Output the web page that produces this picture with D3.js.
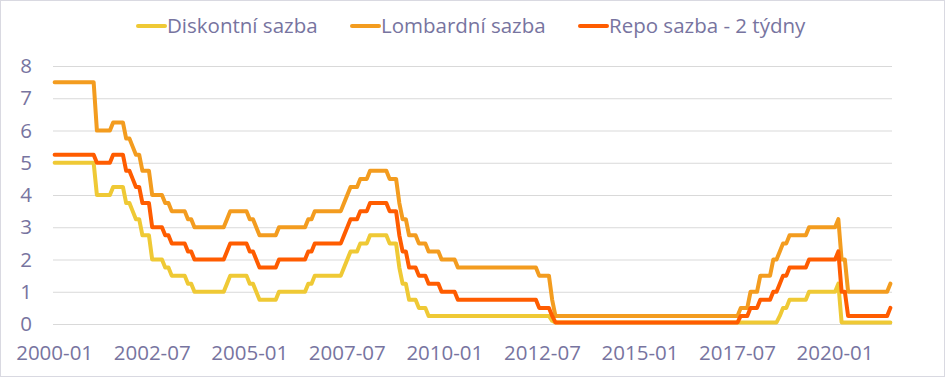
<!DOCTYPE html>
<html>
<head>
<meta charset="utf-8">
<script src="https://cdn.jsdelivr.net/npm/d3@7"></script>
<style>
  body { margin: 0; background: #fff; }
  text { font-family: "Segoe UI", "Open Sans", sans-serif; }
</style>
</head>
<body>
<div id="chart"></div>
<script>
// monthly values, 2000-01 .. 2021-06 (one row per year)
const seriesNames = ['Diskontní sazba', 'Lombardní sazba', 'Repo sazba - 2 týdny'];
const seriesColors = ['#efc935', '#f39c1f', '#ff5c00'];
const tickLabels = ['2000-01','2002-07','2005-01','2007-07','2010-01','2012-07','2015-01','2017-07','2020-01'];
const yTicks = [0,1,2,3,4,5,6,7,8];

const diskontni = [
  5,5,5,5,5,5,5,5,5,5,5,5,
  5,4,4,4,4,4,4.25,4.25,4.25,4.25,3.75,3.75,
  3.5,3.25,3.25,2.75,2.75,2.75,2,2,2,2,1.75,1.75,
  1.5,1.5,1.5,1.5,1.5,1.25,1.25,1,1,1,1,1,
  1,1,1,1,1,1.25,1.5,1.5,1.5,1.5,1.5,1.5,
  1.25,1.25,1,0.75,0.75,0.75,0.75,0.75,0.75,1,1,1,
  1,1,1,1,1,1,1.25,1.25,1.5,1.5,1.5,1.5,
  1.5,1.5,1.5,1.5,1.5,1.75,2,2.25,2.25,2.25,2.5,2.5,
  2.5,2.75,2.75,2.75,2.75,2.75,2.75,2.5,2.5,2.5,1.75,1.25,
  1.25,0.75,0.75,0.75,0.5,0.5,0.5,0.25,0.25,0.25,0.25,0.25,
  0.25,0.25,0.25,0.25,0.25,0.25,0.25,0.25,0.25,0.25,0.25,0.25,
  0.25,0.25,0.25,0.25,0.25,0.25,0.25,0.25,0.25,0.25,0.25,0.25,
  0.25,0.25,0.25,0.25,0.25,0.25,0.25,0.25,0.25,0.1,0.05,0.05,
  0.05,0.05,0.05,0.05,0.05,0.05,0.05,0.05,0.05,0.05,0.05,0.05,
  0.05,0.05,0.05,0.05,0.05,0.05,0.05,0.05,0.05,0.05,0.05,0.05,
  0.05,0.05,0.05,0.05,0.05,0.05,0.05,0.05,0.05,0.05,0.05,0.05,
  0.05,0.05,0.05,0.05,0.05,0.05,0.05,0.05,0.05,0.05,0.05,0.05,
  0.05,0.05,0.05,0.05,0.05,0.05,0.05,0.05,0.05,0.05,0.05,0.05,
  0.05,0.05,0.05,0.05,0.05,0.05,0.05,0.25,0.5,0.5,0.75,0.75,
  0.75,0.75,0.75,0.75,1,1,1,1,1,1,1,1,
  1,1.25,0.05,0.05,0.05,0.05,0.05,0.05,0.05,0.05,0.05,0.05,
  0.05,0.05,0.05,0.05,0.05,0.05
];

const lombardni = [
  7.5,7.5,7.5,7.5,7.5,7.5,7.5,7.5,7.5,7.5,7.5,7.5,
  7.5,6,6,6,6,6,6.25,6.25,6.25,6.25,5.75,5.75,
  5.5,5.25,5.25,4.75,4.75,4.75,4,4,4,4,3.75,3.75,
  3.5,3.5,3.5,3.5,3.5,3.25,3.25,3,3,3,3,3,
  3,3,3,3,3,3.25,3.5,3.5,3.5,3.5,3.5,3.5,
  3.25,3.25,3,2.75,2.75,2.75,2.75,2.75,2.75,3,3,3,
  3,3,3,3,3,3,3.25,3.25,3.5,3.5,3.5,3.5,
  3.5,3.5,3.5,3.5,3.5,3.75,4,4.25,4.25,4.25,4.5,4.5,
  4.5,4.75,4.75,4.75,4.75,4.75,4.75,4.5,4.5,4.5,3.75,3.25,
  3.25,2.75,2.75,2.75,2.5,2.5,2.5,2.25,2.25,2.25,2.25,2,
  2,2,2,2,1.75,1.75,1.75,1.75,1.75,1.75,1.75,1.75,
  1.75,1.75,1.75,1.75,1.75,1.75,1.75,1.75,1.75,1.75,1.75,1.75,
  1.75,1.75,1.75,1.75,1.75,1.5,1.5,1.5,1.5,0.75,0.25,0.25,
  0.25,0.25,0.25,0.25,0.25,0.25,0.25,0.25,0.25,0.25,0.25,0.25,
  0.25,0.25,0.25,0.25,0.25,0.25,0.25,0.25,0.25,0.25,0.25,0.25,
  0.25,0.25,0.25,0.25,0.25,0.25,0.25,0.25,0.25,0.25,0.25,0.25,
  0.25,0.25,0.25,0.25,0.25,0.25,0.25,0.25,0.25,0.25,0.25,0.25,
  0.25,0.25,0.25,0.25,0.25,0.25,0.25,0.5,0.5,0.5,1,1,
  1,1.5,1.5,1.5,1.5,2,2,2.25,2.5,2.5,2.75,2.75,
  2.75,2.75,2.75,2.75,3,3,3,3,3,3,3,3,
  3,3.25,2,2,1,1,1,1,1,1,1,1,
  1,1,1,1,1,1.25
];

const repo = [
  5.25,5.25,5.25,5.25,5.25,5.25,5.25,5.25,5.25,5.25,5.25,5.25,
  5.25,5,5,5,5,5,5.25,5.25,5.25,5.25,4.75,4.75,
  4.5,4.25,4.25,3.75,3.75,3.75,3,3,3,3,2.75,2.75,
  2.5,2.5,2.5,2.5,2.5,2.25,2.25,2,2,2,2,2,
  2,2,2,2,2,2.25,2.5,2.5,2.5,2.5,2.5,2.5,
  2.25,2.25,2,1.75,1.75,1.75,1.75,1.75,1.75,2,2,2,
  2,2,2,2,2,2,2.25,2.25,2.5,2.5,2.5,2.5,
  2.5,2.5,2.5,2.5,2.5,2.75,3,3.25,3.25,3.25,3.5,3.5,
  3.5,3.75,3.75,3.75,3.75,3.75,3.75,3.5,3.5,3.5,2.75,2.25,
  2.25,1.75,1.75,1.75,1.5,1.5,1.5,1.25,1.25,1.25,1.25,1,
  1,1,1,1,0.75,0.75,0.75,0.75,0.75,0.75,0.75,0.75,
  0.75,0.75,0.75,0.75,0.75,0.75,0.75,0.75,0.75,0.75,0.75,0.75,
  0.75,0.75,0.75,0.75,0.75,0.5,0.5,0.5,0.5,0.25,0.05,0.05,
  0.05,0.05,0.05,0.05,0.05,0.05,0.05,0.05,0.05,0.05,0.05,0.05,
  0.05,0.05,0.05,0.05,0.05,0.05,0.05,0.05,0.05,0.05,0.05,0.05,
  0.05,0.05,0.05,0.05,0.05,0.05,0.05,0.05,0.05,0.05,0.05,0.05,
  0.05,0.05,0.05,0.05,0.05,0.05,0.05,0.05,0.05,0.05,0.05,0.05,
  0.05,0.05,0.05,0.05,0.05,0.05,0.05,0.25,0.25,0.25,0.5,0.5,
  0.5,0.75,0.75,0.75,0.75,1,1,1.25,1.5,1.5,1.75,1.75,
  1.75,1.75,1.75,1.75,2,2,2,2,2,2,2,2,
  2,2.25,1,1,0.25,0.25,0.25,0.25,0.25,0.25,0.25,0.25,
  0.25,0.25,0.25,0.25,0.25,0.5
];

// category labels, one per month
const months = d3.timeMonth.range(new Date(2000, 0, 1), new Date(2021, 6, 1))
  .map(d3.timeFormat('%Y-%m'));

const width = 947;
const height = 380;
const margin = { top: 66, left: 53, bottom: 56, right: 55 };
const textColor = '#7774a0';
const fontSize = '20.5px';

const svg = d3.select('#chart').append('svg')
  .attr('width', width)
  .attr('height', height);

// chart border
svg.append('rect')
  .attr('x', 0.5).attr('y', 0.5)
  .attr('width', 944).attr('height', 376)
  .attr('fill', '#fff')
  .attr('stroke', '#d9d9e1');

const x = d3.scaleBand()
  .domain(months)
  .range([margin.left, width - margin.right]);

const y = d3.scaleLinear()
  .domain([0, 8])
  .range([height - margin.bottom, margin.top]);

// y axis + gridlines
const yAxis = svg.append('g')
  .attr('transform', `translate(${margin.left},0)`)
  .call(d3.axisLeft(y).tickValues(yTicks).tickFormat(d3.format('d'))
    .tickSize(-(width - margin.left - margin.right)).tickPadding(21));
yAxis.select('.domain').remove();
yAxis.selectAll('.tick line').attr('stroke', '#d9d9d9');
yAxis.selectAll('.tick text')
  .attr('fill', textColor)
  .style('font-size', fontSize);

// x axis
const xAxis = svg.append('g')
  .attr('transform', `translate(0,${height - margin.bottom})`)
  .call(d3.axisBottom(x).tickValues(tickLabels).tickSize(0).tickPadding(21));
xAxis.select('.domain').remove();
xAxis.selectAll('.tick text')
  .attr('fill', textColor)
  .style('font-size', fontSize);

const series = [diskontni, lombardni, repo];

const line = d3.line()
  .x((d, i) => x(months[i]) + x.bandwidth() / 2)
  .y(d => y(d));

svg.append('g').selectAll('path')
  .data(series)
  .join('path')
    .attr('d', line)
    .attr('fill', 'none')
    .attr('stroke', (d, i) => seriesColors[i])
    .attr('stroke-width', 4)
    .attr('stroke-linejoin', 'round')
    .attr('stroke-linecap', 'round');

// legend
const legendX = [138, 352, 580];
const legend = svg.append('g').selectAll('g')
  .data(seriesNames)
  .join('g')
    .attr('transform', (d, i) => `translate(${legendX[i]},26)`);

legend.append('line')
  .attr('x1', 0).attr('x2', 27)
  .attr('stroke', (d, i) => seriesColors[i])
  .attr('stroke-width', 4)
  .attr('stroke-linecap', 'round');

legend.append('text')
  .attr('x', 29)
  .attr('dy', '0.35em')
  .attr('fill', textColor)
  .style('font-size', fontSize)
  .text(d => d);
</script>
</body>
</html>
